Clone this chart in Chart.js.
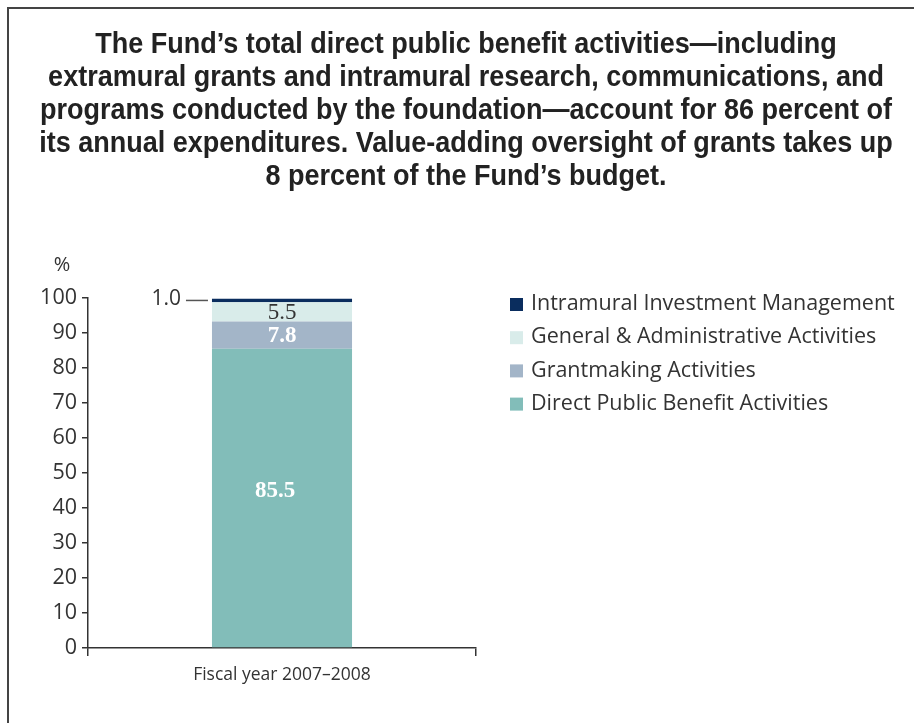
<!DOCTYPE html>
<html>
<head>
<meta charset="utf-8">
<script src="https://cdn.jsdelivr.net/npm/chart.js@4"></script>
<style>
  html, body { margin: 0; padding: 0; background: #fff; }
  #wrap { position: relative; width: 914px; height: 723px; }
  canvas { display: block; }
</style>
</head>
<body>
<div id="wrap"><canvas id="c" width="914" height="723"></canvas></div>
<script>
// Budget shares, fiscal year 2007–2008 (percent of annual expenditures)
const categories = ['Fiscal year 2007\u20132008'];
const seriesNames = [
  'Direct Public Benefit Activities',
  'Grantmaking Activities',
  'General & Administrative Activities',
  'Intramural Investment Management'
];
const directPublicBenefit = [85.5];
const grantmaking = [7.8];
const generalAdministrative = [5.5];
const intramuralInvestment = [1.0];
const yTicks = [0, 10, 20, 30, 40, 50, 60, 70, 80, 90, 100];

const titleLines = [
  'The Fund\u2019s total direct public benefit activities\u2014including',
  'extramural grants and intramural research, communications, and',
  'programs conducted by the foundation\u2014account for 86 percent of',
  'its annual expenditures. Value-adding oversight of grants takes up',
  '8 percent of the Fund\u2019s budget.'
];

const colors = ['#82bdb9', '#a3b5c8', '#d9ecea', '#0a2d5e'];
const textFont = '"Open Sans", "Lato", sans-serif';
const serifFont = '"Liberation Serif", "DejaVu Serif", serif';

// How each segment's value label is drawn
const labelStyles = [
  { color: '#ffffff', font: 'bold 23px ' + serifFont, side: 'center', dx: -7, dy: -7 },
  { color: '#ffffff', font: 'bold 23px ' + serifFont, side: 'center', dx: 0, dy: 1 },
  { color: '#333333', font: '23px ' + serifFont, side: 'center', dx: 0, dy: 1 },
  { color: '#333333', font: '21px ' + textFont, side: 'left', dx: 0, dy: 0 }
];

const framePlugin = {
  id: 'frame',
  beforeDraw(chart) {
    const ctx = chart.ctx;
    ctx.save();
    ctx.fillStyle = '#fff';
    ctx.fillRect(0, 0, chart.width, chart.height);
    ctx.strokeStyle = '#444';
    ctx.lineWidth = 2;
    ctx.beginPath();
    ctx.moveTo(8, chart.height);
    ctx.lineTo(8, 8);
    ctx.lineTo(chart.width, 8);
    ctx.stroke();
    // headline, drawn slightly taller than the face's natural proportions
    ctx.fillStyle = '#222';
    ctx.font = 'bold 27px "Liberation Sans", Arial, sans-serif';
    ctx.textAlign = 'center';
    ctx.textBaseline = 'middle';
    titleLines.forEach((t, i) => {
      ctx.save();
      ctx.translate(466, 45 + i * 33);
      ctx.scale(1, 1.1);
      ctx.fillText(t, 0, 0);
      ctx.restore();
    });
    // unit marker above the value axis
    ctx.font = '20px ' + textFont;
    ctx.fillStyle = '#333';
    ctx.fillText('%', 62, 265);
    ctx.restore();
  }
};

const valueLabelPlugin = {
  id: 'valueLabels',
  afterDatasetsDraw(chart) {
    const ctx = chart.ctx;
    ctx.save();
    chart.data.datasets.forEach((ds, di) => {
      const meta = chart.getDatasetMeta(di);
      const st = labelStyles[di];
      meta.data.forEach((bar, i) => {
        const v = ds.data[i];
        const txt = v.toFixed(1);
        const yMid = (bar.y + bar.base) / 2;
        ctx.font = st.font;
        ctx.fillStyle = st.color;
        ctx.textBaseline = 'middle';
        if (st.side === 'center') {
          ctx.textAlign = 'center';
          ctx.fillText(txt, bar.x + st.dx, yMid + st.dy);
        } else {
          const left = bar.x - bar.width / 2;
          ctx.strokeStyle = '#555';
          ctx.lineWidth = 1.5;
          ctx.beginPath();
          ctx.moveTo(left - 26, yMid);
          ctx.lineTo(left - 4, yMid);
          ctx.stroke();
          ctx.textAlign = 'right';
          ctx.fillText(txt, left - 31, yMid - 1);
        }
      });
    });
    ctx.restore();
  }
};

const legendPlugin = {
  id: 'sideLegend',
  afterDraw(chart) {
    const ctx = chart.ctx;
    ctx.save();
    ctx.font = '21.5px ' + textFont;
    ctx.textBaseline = 'middle';
    ctx.textAlign = 'left';
    const items = chart.data.datasets.slice().reverse();
    items.forEach((ds, i) => {
      const y = 304 + i * 33.2;
      ctx.fillStyle = ds.backgroundColor;
      ctx.fillRect(510, y - 6, 13, 13);
      ctx.fillStyle = '#333';
      ctx.fillText(ds.label, 531, y);
    });
    ctx.restore();
  }
};

const valueSeries = [directPublicBenefit, grantmaking, generalAdministrative, intramuralInvestment];

new Chart(document.getElementById('c'), {
  type: 'bar',
  data: {
    labels: categories,
    datasets: valueSeries.map((d, i) => ({
      label: seriesNames[i],
      data: d,
      backgroundColor: colors[i],
      borderWidth: 0,
      barPercentage: 0.361,
      categoryPercentage: 1.0
    }))
  },
  options: {
    responsive: false,
    animation: false,
    devicePixelRatio: 1,
    layout: { padding: { top: 298, right: 438, left: 0, bottom: 0 } },
    plugins: { legend: { display: false }, title: { display: false }, tooltip: { enabled: false } },
    scales: {
      x: {
        stacked: true,
        afterFit(s) { s.height = 75; },
        grid: { display: true, offset: true, drawOnChartArea: false, tickLength: 8, color: '#333', lineWidth: 1.5 },
        border: { display: true, color: '#333', width: 1.5 },
        ticks: { color: '#333', font: { family: textFont, size: 17.5 }, padding: 9 }
      },
      y: {
        stacked: true,
        min: 0,
        max: 100,
        afterFit(s) { s.width = 88; },
        afterBuildTicks(s) { s.ticks = yTicks.map(v => ({ value: v })); },
        grid: { display: true, drawOnChartArea: false, tickLength: 6, color: '#333', lineWidth: 1.5 },
        border: { display: true, color: '#333', width: 1.5 },
        ticks: { color: '#333', font: { family: textFont, size: 21.5 }, padding: 5 }
      }
    }
  },
  plugins: [framePlugin, valueLabelPlugin, legendPlugin]
});
</script>
</body>
</html>
